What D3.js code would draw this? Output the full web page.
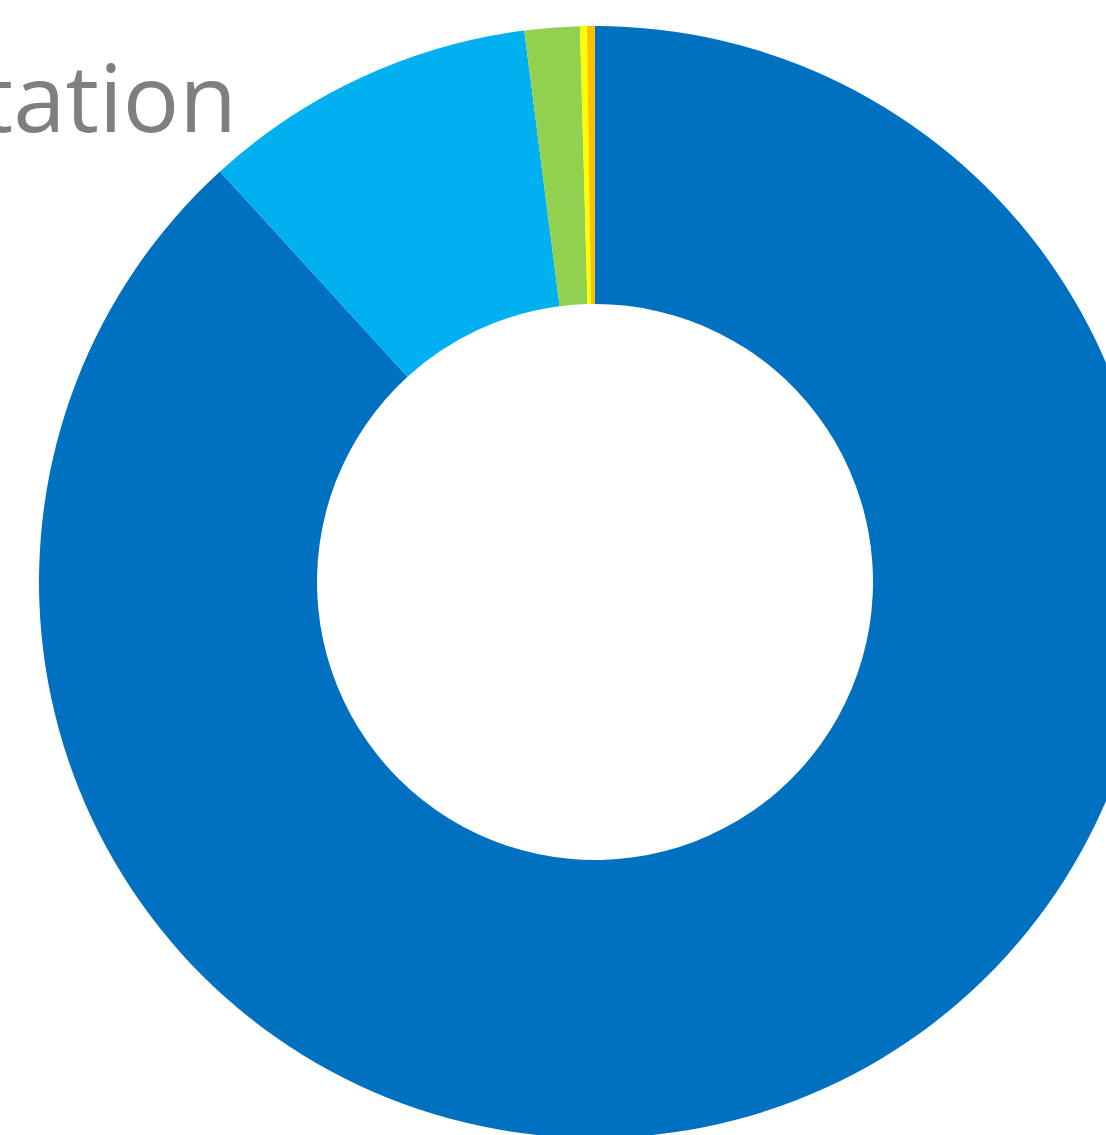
<!DOCTYPE html>
<html>
<head>
<meta charset="utf-8">
<script src="https://cdnjs.cloudflare.com/ajax/libs/d3/7.8.5/d3.min.js"></script>
<style>
  html, body { margin: 0; padding: 0; background: #fff; overflow: hidden; }
  .title { font-family: "Segoe UI", "Open Sans", sans-serif; fill: #7f7f7f; }
</style>
</head>
<body>
<div id="donut"></div>
<script>

	var fullwidth = 1106;
	var fullheight = 1135;

	// slices, clockwise from 12 o'clock (share of total, %)
	var categories = ["A", "B", "C", "D", "E"];
	var values = [88.2, 9.75, 1.6, 0.2, 0.23];
	var colors = ["#0070C0", "#00B0F0", "#92D050", "#FFFF00", "#FFC000"];

	var titleText = "tation";

	var cx = 595;
	var cy = 582;
	var outerR = 556;
	var innerR = 278;

	var svg = d3.select("#donut")
			.append("svg")
			.attr("width", fullwidth)
			.attr("height", fullheight);

	var color = d3.scaleOrdinal()
			.domain(categories)
			.range(colors);

	var pie = d3.pie()
			.sort(null)
			.value(function(d) { return d.value; });

	var arc = d3.arc()
			.innerRadius(innerR)
			.outerRadius(outerR);

	var data = categories.map(function(c, i) {
		return { name: c, value: values[i] };
	});

	var g = svg.append("g")
			.attr("transform", "translate(" + cx + "," + cy + ")");

	g.selectAll("path")
		.data(pie(data))
		.enter()
		.append("path")
		.attr("d", arc)
		.attr("fill", function(d) { return color(d.data.name); });

	// title, cut off at the left edge like the reference
	svg.append("text")
		.attr("class", "title")
		.attr("x", 237)
		.attr("y", 132)
		.style("text-anchor", "end")
		.style("font-size", "94px")
		.text(titleText);

</script>
</body>
</html>
